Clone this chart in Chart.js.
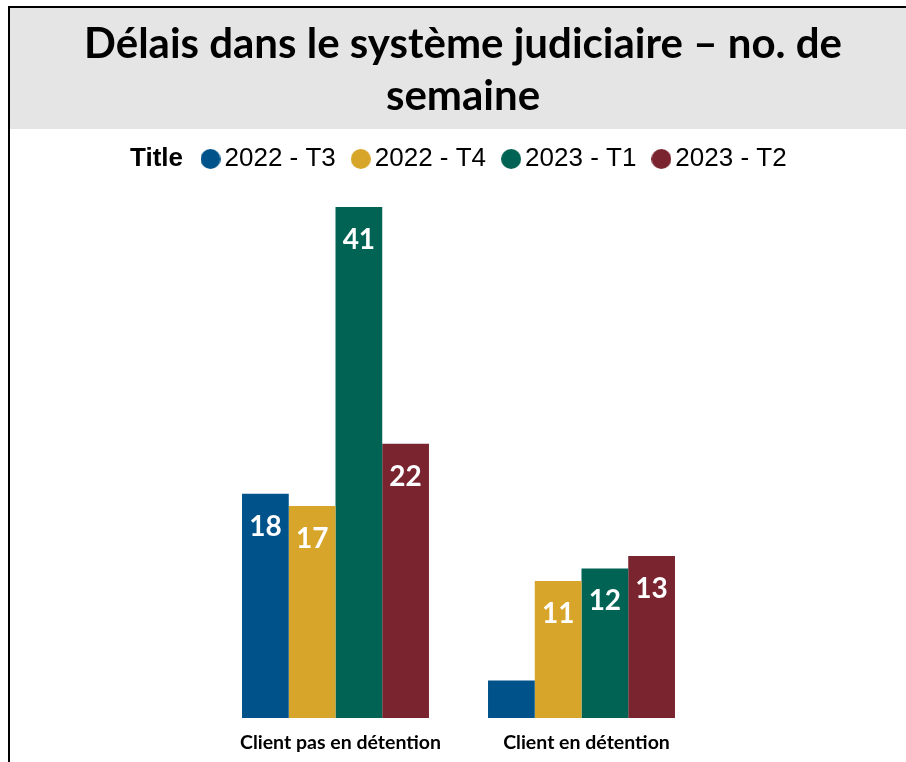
<!DOCTYPE html>
<html lang="fr">
<head>
<meta charset="utf-8">
<title>Délais dans le système judiciaire</title>
<script src="https://cdn.jsdelivr.net/npm/chart.js@4.4.1/dist/chart.umd.min.js"></script>
<style>
  html, body { margin: 0; padding: 0; background: #fff; }
  #myChart-div { position: relative; width: 906px; height: 762px; }
</style>
</head>
<body>
<div id="myChart-div"><canvas id="myChart"></canvas></div>
<script>
// data
var categories = ["Client pas en détention", "Client en détention"];
var periods = ["2022 - T3", "2022 - T4", "2023 - T1", "2023 - T2"];
var t3_2022 = [18, 3];
var t4_2022 = [17, 11];
var t1_2023 = [41, 12];
var t2_2023 = [22, 13];
var colours = ["#00528A", "#D8A52B", "#006354", "#7A2430"];
var titleLines = ["Délais dans le système judiciaire – no. de", "semaine"];
var legendTitle = "Title";
var yMax = 43;

// round legend markers
function makeDot(colour) {
  var c = document.createElement("canvas");
  c.width = 20;
  c.height = 20;
  var cx = c.getContext("2d");
  cx.fillStyle = colour;
  cx.beginPath();
  cx.arc(10, 10, 10, 0, Math.PI * 2);
  cx.fill();
  return c;
}
var dots = colours.map(makeDot);

var frame = {
  id: "frame",
  beforeDraw: function (chart) {
    var ctx = chart.ctx;
    ctx.save();
    ctx.fillStyle = "#fff";
    ctx.fillRect(0, 0, chart.width, chart.height);
    ctx.fillStyle = "#e5e5e5";
    ctx.fillRect(10, 8, chart.width - 10, 121);
    ctx.fillStyle = "#000";
    ctx.fillRect(8, 6, chart.width - 8, 2);
    ctx.fillRect(8, 6, 2, chart.height - 6);
    ctx.restore();
  },
  afterLayout: function (chart) {
    // nudge title and legend to where they sit in the original
    chart.titleBlock.left += 10;
    chart.titleBlock.right += 10;
    chart.legend.left = 185.5;
  },
  afterDraw: function (chart) {
    var box = chart.legend.legendHitBoxes[0];
    if (!box) return;
    var ctx = chart.ctx;
    ctx.save();
    ctx.fillStyle = "#000";
    ctx.font = "bold 26px 'Liberation Sans', Arial, sans-serif";
    ctx.textAlign = "left";
    ctx.textBaseline = "middle";
    ctx.fillText(legendTitle, box.left - 79.5, box.top + 13);
    ctx.restore();
  }
};

var barLabels = {
  id: "barLabels",
  afterDatasetsDraw: function (chart) {
    var ctx = chart.ctx;
    ctx.save();
    ctx.fillStyle = "#fff";
    ctx.font = "bold 28px Lato, sans-serif";
    ctx.textAlign = "center";
    ctx.textBaseline = "middle";
    chart.data.datasets.forEach(function (ds, i) {
      chart.getDatasetMeta(i).data.forEach(function (bar, j) {
        if (bar.base - bar.y < 45) return; // too short for a label
        ctx.fillText(ds.data[j], bar.x, bar.y + 33);
      });
    });
    ctx.restore();
  }
};

var canvas = document.getElementById("myChart");
var myChart = new Chart(canvas, {
  type: "bar",
  data: {
    labels: categories,
    datasets: [
      { label: periods[0], data: t3_2022, backgroundColor: colours[0] },
      { label: periods[1], data: t4_2022, backgroundColor: colours[1] },
      { label: periods[2], data: t1_2023, backgroundColor: colours[2] },
      { label: periods[3], data: t2_2023, backgroundColor: colours[3] }
    ]
  },
  options: {
    responsive: true,
    maintainAspectRatio: false,
    animation: false,
    categoryPercentage: 0.76,
    barPercentage: 1,
    layout: { padding: 0 },
    plugins: {
      tooltip: { enabled: false },
      title: {
        display: true,
        text: titleLines,
        color: "#000",
        font: { family: "Lato", weight: "bold", size: 42, lineHeight: 52 / 42 },
        padding: { top: 18, bottom: 0 }
      },
      legend: {
        display: true,
        position: "top",
        align: "start",
        labels: {
          usePointStyle: true,
          boxWidth: 2,
          padding: 24,
          color: "#000",
          font: { family: "'Liberation Sans', Arial", size: 26 },
          generateLabels: function (chart) {
            var items = Chart.defaults.plugins.legend.labels.generateLabels(chart);
            items.forEach(function (item, i) { item.pointStyle = dots[i]; });
            return items;
          }
        }
      }
    },
    scales: {
      x: {
        grid: { display: false, drawTicks: false },
        border: { display: false },
        ticks: {
          color: "#000",
          font: { family: "Lato", weight: "bold", size: 19.5 },
          padding: 13,
          labelOffset: 5,
          maxRotation: 0,
          autoSkip: false
        },
        afterFit: function (scale) { scale.height = 44; }
      },
      y: {
        min: 0,
        max: yMax,
        ticks: { display: false },
        grid: { display: false, drawTicks: false },
        border: { display: false },
        afterFit: function (scale) { scale.width = 212.5; }
      },
      yRight: {
        position: "right",
        ticks: { display: false },
        grid: { display: false, drawTicks: false },
        border: { display: false },
        afterFit: function (scale) { scale.width = 201.5; }
      }
    }
  },
  plugins: [frame, barLabels]
});
</script>
</body>
</html>
